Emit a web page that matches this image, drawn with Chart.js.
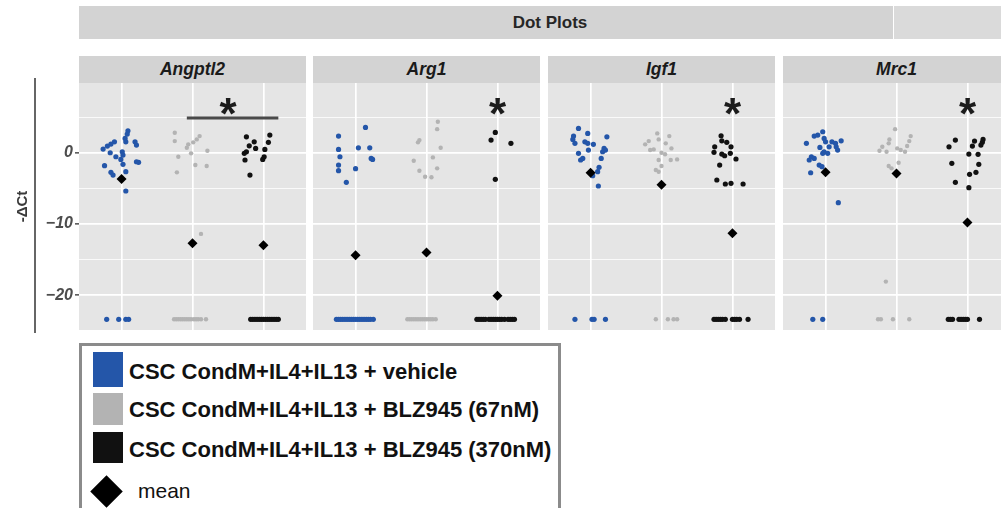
<!DOCTYPE html>
<html>
<head>
<meta charset="utf-8">
<script src="https://cdn.jsdelivr.net/npm/chart.js@4.4.0/dist/chart.umd.min.js"></script>
<style>
  html, body { margin: 0; padding: 0; background: #fff; }
  body { width: 1001px; height: 508px; overflow: hidden; position: relative;
         font-family: "Liberation Sans", Arial, sans-serif; }
  .abs { position: absolute; }
  .head { position: absolute; top: 6px; height: 33px; background: #d3d3d3; }
  .headText { position: absolute; left: 450px; width: 200px; top: 6px; height: 33px; line-height: 33px;
              text-align: center; font-size: 17px; font-weight: bold; color: #262626; }
  .strip { position: absolute; top: 56px; height: 27px; width: 227px; line-height: 27px; background: #d3d3d3;
           text-align: center; font-size: 17.5px; font-weight: bold; font-style: italic; color: #1a1a1a; }
  canvas { position: absolute; top: 83px; }
  .legendBox { position: absolute; left: 79px; top: 343px; width: 482px; height: 200px;
               box-sizing: border-box; border: 3px solid #8b8b8b; background: #fff; }
  .key { position: absolute; left: 93px; width: 30px; }
  .lab { position: absolute; left: 129px; font-size: 22px; line-height: 22px; font-weight: bold; color: #111; white-space: nowrap; }
</style>
</head>
<body>
<div class="head" style="left:79px;width:814px;"></div>
<div class="head" style="left:894px;width:107px;background:#dadada;"></div>
<div class="headText">Dot Plots</div>

<div class="strip" id="s0" style="left:79px;"></div>
<div class="strip" id="s1" style="left:313px;"></div>
<div class="strip" id="s2" style="left:548px;"></div>
<div class="strip" id="s3" style="left:783px;"></div>

<div class="abs" style="left:34px;top:78px;width:2px;height:255px;background:#666;"></div>

<canvas id="c0" width="306" height="247" style="left:0px;"></canvas>
<canvas id="c1" width="227" height="247" style="left:313px;"></canvas>
<canvas id="c2" width="227" height="247" style="left:548px;"></canvas>
<canvas id="c3" width="227" height="247" style="left:783px;"></canvas>

<div class="legendBox"></div>
<div class="key" id="k0" style="top:352px;height:35px;"></div>
<div class="key" id="k1" style="top:393px;height:32px;"></div>
<div class="key" id="k2" style="top:432px;height:31px;"></div>
<div class="lab" id="l0" style="top:361px;"></div>
<div class="lab" id="l1" style="top:399px;"></div>
<div class="lab" id="l2" style="top:439px;"></div>
<div class="abs" style="left:95px;top:480px;width:23px;height:23px;background:#000;transform:rotate(45deg);"></div>
<div class="abs" style="left:138px;top:480px;font-size:21px;line-height:21px;color:#111;">mean</div>

<script>
// ---- panels, groups, axis ----
const genes = ['Angptl2', 'Arg1', 'Igf1', 'Mrc1'];
const groupLabels = [
  'CSC CondM+IL4+IL13 + vehicle',
  'CSC CondM+IL4+IL13 + BLZ945 (67nM)',
  'CSC CondM+IL4+IL13 + BLZ945 (370nM)'
];
const groupColors = ['#2456a9', '#b3b3b3', '#111111'];
const yTicks = [-20, -15, -10, -5, 0, 5];

// ---- -ΔCt per sample: [jitter offset from group centre, value] ----
const angptl2Vehicle = [[0.09,3.09],[0.08,2.62],[0.05,2.02],[0.06,1.54],[-0.10,1.54],[-0.15,1.22],[-0.20,0.94],
  [-0.26,0.52],[0.19,1.54],[0.21,1.08],[-0.16,0.0],[-0.08,-0.56],[0.01,0.14],[0.02,-0.32],[-0.01,-0.93],
  [0.21,-1.26],[0.24,-1.35],[-0.24,-1.82],[0.02,-1.63],[-0.15,-2.75],[-0.12,-3.13],[0.06,-2.66],[0.06,-5.37],
  [-0.21,-23.4],[-0.04,-23.4],[0.06,-23.4],[0.10,-23.4]];
const angptl2Blz67 = [[-0.25,2.81],[-0.25,1.64],[0.10,2.34],[0.06,1.88],[0.01,1.46],[-0.06,1.18],[-0.08,0.70],
  [0.21,0.28],[-0.02,-0.08],[-0.20,-0.56],[0.04,-1.73],[0.20,-1.87],[-0.22,-2.75],[0.12,-11.4],
  [-0.26,-23.4],[-0.23,-23.4],[-0.20,-23.4],[-0.17,-23.4],[-0.14,-23.4],[-0.11,-23.4],[-0.08,-23.4],[-0.05,-23.4],
  [-0.02,-23.4],[0.02,-23.4],[0.05,-23.4],[0.08,-23.4],[0.12,-23.4],[0.19,-23.4]];
const angptl2Blz370 = [[-0.24,2.24],[0.09,2.48],[-0.13,1.54],[0.07,1.46],[-0.20,0.98],[-0.11,0.61],[0.02,0.47],
  [-0.24,0.14],[-0.27,-0.08],[0.01,-0.56],[-0.01,-0.93],[-0.26,-1.02],[-0.19,-3.13],
  [-0.18,-23.4],[-0.15,-23.4],[-0.12,-23.4],[-0.09,-23.4],[-0.06,-23.4],[-0.03,-23.4],[0.0,-23.4],[0.03,-23.4],
  [0.06,-23.4],[0.09,-23.4],[0.12,-23.4],[0.15,-23.4],[0.18,-23.4],[0.21,-23.4]];
const angptl2Means = [-3.7, -12.7, -13.0];

const arg1Vehicle = [[0.14,3.56],[-0.24,2.34],[0.04,0.70],[0.20,0.70],[-0.24,0.47],[-0.22,-0.56],[0.22,-0.79],
  [0.24,-0.93],[-0.24,-1.73],[-0.24,-2.52],[0.0,-2.24],[-0.13,-4.15],
  [-0.27,-23.4],[-0.24,-23.4],[-0.21,-23.4],[-0.18,-23.4],[-0.15,-23.4],[-0.12,-23.4],[-0.09,-23.4],[-0.06,-23.4],
  [-0.03,-23.4],[0.0,-23.4],[0.03,-23.4],[0.06,-23.4],[0.09,-23.4],[0.12,-23.4],[0.15,-23.4],[0.18,-23.4],
  [0.21,-23.4],[0.25,-23.4]];
const arg1Blz67 = [[0.16,4.35],[0.15,3.32],[-0.10,1.78],[-0.12,1.46],[0.20,0.70],[-0.18,-1.12],[0.09,-0.65],
  [0.15,-2.19],[-0.10,-2.52],[-0.02,-3.37],[0.07,-3.45],
  [-0.27,-23.4],[-0.24,-23.4],[-0.21,-23.4],[-0.18,-23.4],[-0.15,-23.4],[-0.12,-23.4],[-0.09,-23.4],[-0.06,-23.4],
  [-0.03,-23.4],[0.0,-23.4],[0.03,-23.4],[0.06,-23.4],[0.09,-23.4],[0.13,-23.4]];
const arg1Blz370 = [[-0.03,2.86],[-0.09,1.78],[0.19,1.32],[-0.03,-3.73],
  [-0.29,-23.4],[-0.26,-23.4],[-0.23,-23.4],[-0.20,-23.4],[-0.17,-23.4],
  [-0.12,-23.4],[-0.09,-23.4],[-0.06,-23.4],[-0.03,-23.4],[0.0,-23.4],[0.03,-23.4],[0.06,-23.4],[0.10,-23.4],
  [0.15,-23.4],[0.18,-23.4],[0.21,-23.4],[0.24,-23.4]];
const arg1Means = [-14.4, -14.0, -20.1];

const igf1Vehicle = [[-0.17,3.42],[-0.04,2.72],[-0.24,2.34],[0.23,2.24],[-0.25,1.88],[-0.22,1.32],[-0.08,1.54],
  [-0.04,1.32],[0.04,1.18],[-0.03,0.38],[0.19,0.61],[0.21,0.38],[0.17,0.14],[-0.17,-0.08],[-0.14,-1.02],
  [-0.11,-0.79],[0.15,-0.79],[0.12,-2.05],[0.10,-2.66],[0.03,-3.22],[0.11,-4.67],
  [-0.22,-23.4],[0.02,-23.4],[0.05,-23.4],[0.21,-23.4]];
const igf1Blz67 = [[-0.06,2.72],[0.11,2.34],[-0.18,1.64],[-0.04,1.88],[-0.23,1.18],[0.06,1.32],[0.14,0.61],
  [-0.11,0.47],[0.0,0.0],[0.05,-0.22],[0.22,-0.93],[0.13,-1.02],[-0.04,-1.02],[0.0,-1.87],[-0.08,-2.43],
  [-0.04,-2.66],[-0.16,0.38],
  [-0.08,-23.4],[0.09,-23.4],[0.17,-23.4],[0.22,-23.4]];
const igf1Blz370 = [[-0.16,2.39],[-0.15,1.68],[-0.08,1.46],[-0.02,0.84],[-0.25,0.84],[-0.26,0.06],[-0.15,-0.18],
  [-0.11,-0.42],[-0.03,-0.08],[0.05,-0.88],[-0.18,-1.73],[-0.22,-3.83],[-0.10,-4.39],[-0.02,-4.29],[0.15,-4.39],
  [-0.26,-23.4],[-0.23,-23.4],[-0.20,-23.4],[-0.17,-23.4],[-0.14,-23.4],[-0.10,-23.4],
  [0.0,-23.4],[0.03,-23.4],[0.06,-23.4],[0.10,-23.4],[0.22,-23.4]];
const igf1Means = [-2.8, -4.5, -11.3];

const mrc1Vehicle = [[-0.04,2.95],[-0.11,2.48],[-0.16,2.34],[-0.27,1.32],[-0.02,2.02],[0.0,1.54],[0.09,1.54],
  [0.14,1.32],[0.22,1.68],[-0.08,0.75],[0.05,0.84],[0.15,0.84],[0.17,0.38],[-0.02,0.14],[0.03,-0.08],
  [-0.04,-0.08],[-0.20,-0.56],[-0.23,-1.02],[-0.16,-0.79],[-0.09,-1.73],[-0.05,-1.96],[-0.21,-2.81],[0.18,-7.01],
  [-0.18,-23.4],[-0.04,-23.4]];
const mrc1Blz67 = [[-0.02,3.32],[-0.10,1.88],[-0.11,1.32],[-0.20,0.84],[-0.24,0.28],[-0.14,0.14],[0.01,0.61],
  [0.20,2.34],[0.18,1.64],[0.15,0.94],[0.12,0.14],[0.06,0.38],[0.03,-1.40],[-0.11,-1.87],[-0.07,-2.19],
  [-0.15,-18.1],
  [-0.26,-23.4],[-0.22,-23.4],[-0.05,-23.4],[0.18,-23.4]];
const mrc1Blz370 = [[-0.17,1.78],[-0.26,0.84],[0.10,1.64],[0.22,1.88],[0.21,1.46],[0.19,1.08],[0.07,0.94],
  [0.02,-0.18],[0.15,-0.22],[-0.22,-1.49],[0.16,-1.63],[0.12,-2.75],[0.03,-3.03],[-0.17,-4.15],[0.02,-4.91],
  [-0.27,-23.4],[-0.24,-23.4],[-0.21,-23.4],[-0.12,-23.4],[-0.09,-23.4],[-0.06,-23.4],[-0.03,-23.4],[0.0,-23.4],
  [0.17,-23.4]];
const mrc1Means = [-2.75, -2.9, -9.8];

// significance marks: group position and height of the asterisk, bracket ends
const starX = [2.5, 3, 3, 3];
const starY = 6.55;
const angptl2Bracket = [[1.92, 4.9], [3.21, 4.9]];

// ---- drawing ----
genes.forEach((g, i) => { document.getElementById('s' + i).textContent = g; });
groupLabels.forEach((t, i) => {
  document.getElementById('l' + i).textContent = t;
  document.getElementById('k' + i).style.background = groupColors[i];
});

Chart.defaults.font.family = '"Liberation Sans", Arial, sans-serif';

const panelBg = {
  id: 'panelBg',
  beforeDraw(chart) {
    const { ctx, chartArea: a } = chart;
    ctx.save();
    ctx.fillStyle = '#e5e5e5';
    ctx.fillRect(a.left, a.top, a.right - a.left, a.bottom - a.top);
    ctx.restore();
  }
};

const stars = {
  id: 'stars',
  afterDatasetsDraw(chart, args, opts) {
    const { ctx, scales: { x, y } } = chart;
    ctx.save();
    ctx.font = 'bold 44px "Liberation Sans", Arial, sans-serif';
    ctx.fillStyle = '#1c1c1c';
    ctx.textAlign = 'center';
    const m = ctx.measureText('*');
    const px = x.getPixelForValue(opts.x);
    const py = y.getPixelForValue(opts.y);
    ctx.fillText('*', px, py + (m.actualBoundingBoxAscent - m.actualBoundingBoxDescent) / 2);
    ctx.restore();
  }
};

const sizes = [2.6, 2.2, 2.6];

function buildPanel(canvasId, groups, means, starPos, bracket, withAxis) {
  const datasets = [];
  datasets.push({
    data: means.map((m, k) => ({ x: k + 1, y: m })),
    pointStyle: 'rectRot', pointRadius: 5, pointBackgroundColor: '#000', pointBorderColor: '#000',
    pointBorderWidth: 0, order: 0
  });
  groups.forEach((pts, k) => {
    datasets.push({
      data: pts.map(p => ({ x: k + 1 + p[0], y: p[1] })),
      pointRadius: sizes[k], pointBackgroundColor: groupColors[k], pointBorderColor: groupColors[k],
      pointBorderWidth: 0, order: 1
    });
  });
  if (bracket) {
    datasets.push({
      data: bracket.map(p => ({ x: p[0], y: p[1] })),
      showLine: true, borderColor: '#4a4a4a', borderWidth: 3, pointRadius: 0, order: 2
    });
  }
  const major = c => c.tick && c.tick.value % 10 === 0;
  return new Chart(document.getElementById(canvasId), {
    type: 'scatter',
    data: { datasets },
    options: {
      responsive: false, animation: false, devicePixelRatio: 1,
      layout: { padding: 0, autoPadding: false },
      events: [],
      plugins: { legend: { display: false }, tooltip: { enabled: false }, stars: starPos },
      scales: {
        x: {
          type: 'linear', min: 0.4, max: 3.6,
          afterBuildTicks: s => { s.ticks = [1, 2, 3].map(v => ({ value: v })); },
          ticks: { display: false },
          grid: { color: '#ffffff', lineWidth: 1.7, drawTicks: false },
          border: { display: false },
          afterFit: s => { s.height = 0; s.paddingLeft = 0; s.paddingRight = 0; }
        },
        y: {
          type: 'linear', min: -24.9, max: 9.8,
          afterBuildTicks: s => { s.ticks = yTicks.map(v => ({ value: v })); },
          ticks: {
            display: withAxis, autoSkip: false, padding: 2, color: '#4d4d4d',
            font: { size: 16, weight: 'bold', style: 'italic' },
            callback: v => (v % 10 === 0 ? String(v).replace('-', '\u2212') : '')
          },
          grid: {
            color: '#ffffff', lineWidth: c => (major(c) ? 1.7 : 0.8),
            drawTicks: withAxis, tickLength: 4, tickWidth: 1.5,
            tickColor: c => (major(c) ? '#4d4d4d' : 'rgba(0,0,0,0)')
          },
          border: { display: false },
          title: {
            display: withAxis, text: '-\u0394Ct', color: '#3a3a3a',
            font: { size: 15, weight: 'bold' }, padding: { top: 14, bottom: 0 }
          },
          afterFit: s => { s.width = withAxis ? 79 : 0; s.paddingTop = 0; s.paddingBottom = 0; }
        }
      }
    },
    plugins: [panelBg, stars]
  });
}

buildPanel('c0', [angptl2Vehicle, angptl2Blz67, angptl2Blz370], angptl2Means, { x: starX[0], y: starY }, angptl2Bracket, true);
buildPanel('c1', [arg1Vehicle, arg1Blz67, arg1Blz370], arg1Means, { x: starX[1], y: starY }, null, false);
buildPanel('c2', [igf1Vehicle, igf1Blz67, igf1Blz370], igf1Means, { x: starX[2], y: starY }, null, false);
buildPanel('c3', [mrc1Vehicle, mrc1Blz67, mrc1Blz370], mrc1Means, { x: starX[3], y: starY }, null, false);
</script>
</body>
</html>
